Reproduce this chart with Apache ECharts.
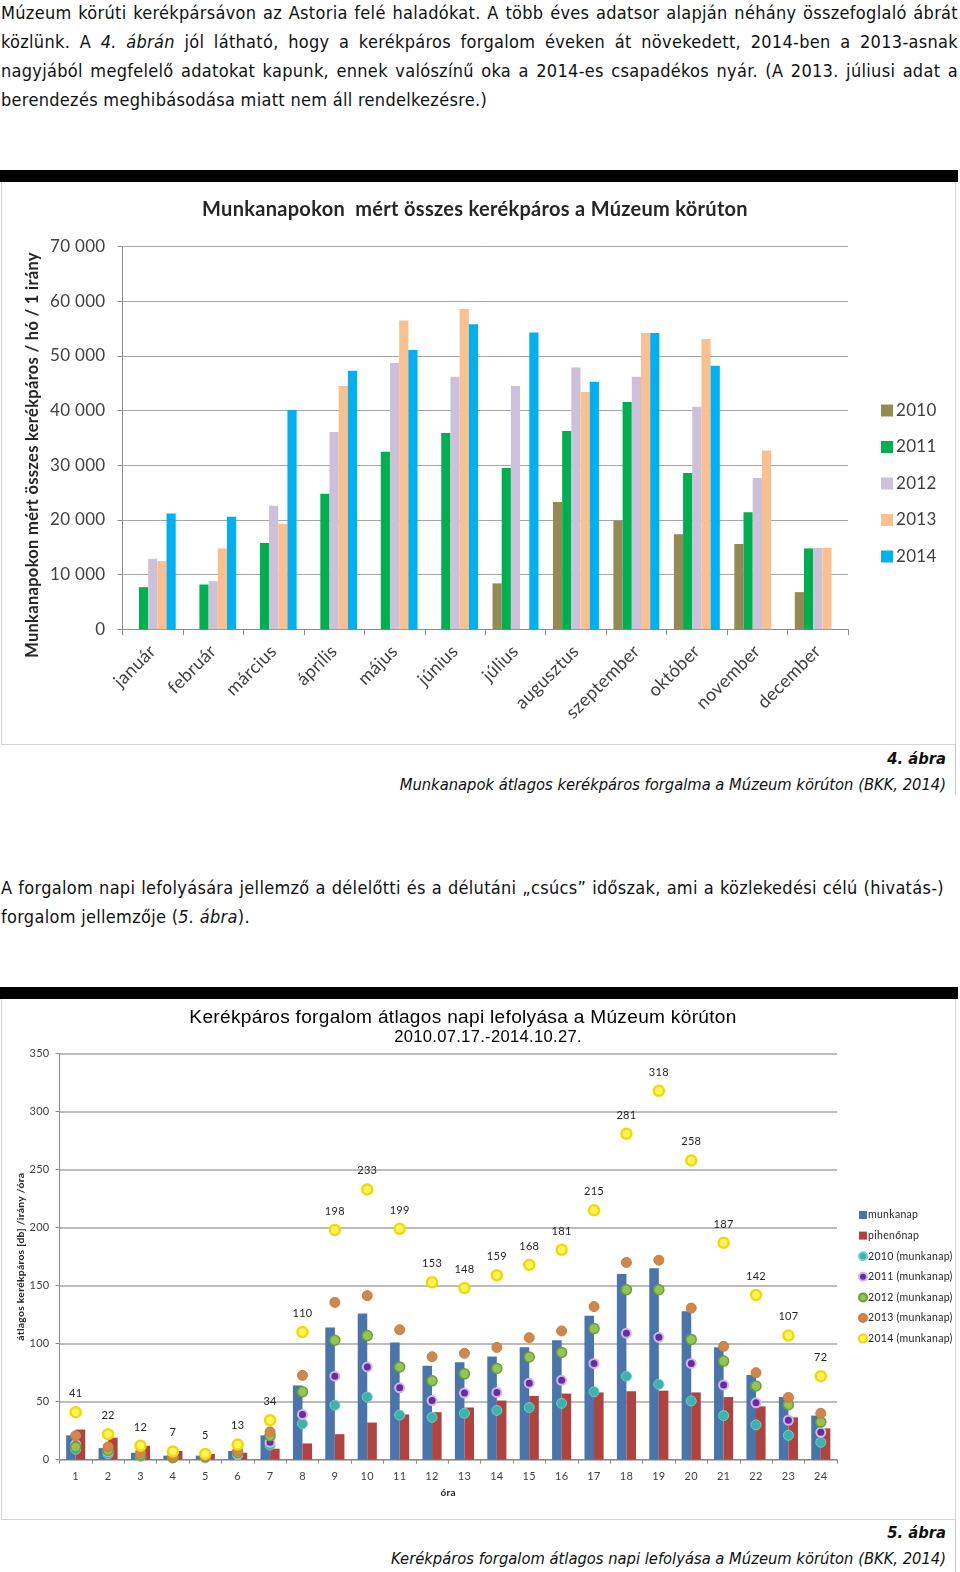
<!DOCTYPE html>
<html>
<head>
<meta charset="utf-8">
<script src="https://cdn.jsdelivr.net/npm/echarts@6/dist/echarts.min.js"></script>
<style>
  html, body { margin:0; padding:0; background:#fff; }
  body { width:960px; height:1572px; position:relative; overflow:hidden;
         font-family:'DejaVu Sans Condensed','DejaVu Sans',sans-serif; font-size:18px; letter-spacing:0.3px; color:#111; }
  .ln { position:absolute; left:1px; white-space:nowrap; line-height:29px; height:29px; }
  .j { text-align:justify; text-align-last:justify; white-space:normal; }
  .cap { position:absolute; right:14px; white-space:nowrap; font-style:italic; line-height:20px; text-align:right; font-size:16.4px; letter-spacing:0; }
  .bar { position:absolute; left:0; width:958px; height:12px; background:#000; }
  .frame { position:absolute; left:1px; width:955px; border:1px solid #d4d4d4; border-top:none; box-sizing:border-box; }
  .vl { position:absolute; left:955px; width:1px; background:#c8c8c8; }
</style>
</head>
<body>
<div class="ln j" style="top:-2px;width:957px;">Múzeum körúti kerékpársávon az Astoria felé haladókat. A több éves adatsor alapján néhány összefoglaló ábrát</div>
<div class="ln j" style="top:27px;width:957px;">közlünk. A <i>4. ábrán</i> jól látható, hogy a kerékpáros forgalom éveken át növekedett, 2014-ben a 2013-asnak</div>
<div class="ln j" style="top:56px;width:957px;">nagyjából megfelelő adatokat kapunk, ennek valószínű oka a 2014-es csapadékos nyár. (A 2013. júliusi adat a</div>
<div class="ln" style="top:85px;">berendezés meghibásodása miatt nem áll rendelkezésre.)</div>

<div class="bar" style="top:170px;"></div>
<div class="frame" style="top:182px;height:563px;"></div>
<div id="c1" style="position:absolute;left:0;top:182px;width:958px;height:562px;"></div>
<div class="vl" style="top:744px;height:51px;"></div>
<div class="cap" style="top:749px;font-weight:bold;">4. ábra</div>
<div class="cap" style="top:775px;">Munkanapok átlagos kerékpáros forgalma a Múzeum körúton (BKK, 2014)</div>

<div class="ln j" style="top:873px;width:943px;">A forgalom napi lefolyására jellemző a délelőtti és a délutáni „csúcs” időszak, ami a közlekedési célú (hivatás-)</div>
<div class="ln" style="top:902px;">forgalom jellemzője (<i>5. ábra</i>).</div>

<div class="bar" style="top:987px;"></div>
<div class="frame" style="top:999px;height:521px;"></div>
<div id="c2" style="position:absolute;left:0;top:999px;width:958px;height:520px;"></div>
<div class="vl" style="top:1519px;height:53px;"></div>
<div class="cap" style="top:1523px;font-weight:bold;">5. ábra</div>
<div class="cap" style="top:1549px;">Kerékpáros forgalom átlagos napi lefolyása a Múzeum körúton (BKK, 2014)</div>

<script>
// ---- Chart 1 data ----
const months = ['január','február','március','április','május','június','július','augusztus','szeptember','október','november','december'];
const years = ['2010','2011','2012','2013','2014'];
const y2010 = [null,null,null,null,null,null,8400,23300,19900,17400,15600,6800];
const y2011 = [7700,8200,15800,24800,32500,35900,29500,36300,41600,28600,21400,14800];
const y2012 = [12900,8800,22600,36100,48700,46200,44500,47900,46200,40700,27700,14900];
const y2013 = [12500,14800,19300,44500,56500,58600,null,43400,54200,53100,32700,14900];
const y2014 = [21200,20600,40100,47300,51100,55800,54300,45300,54200,48200,null,null];
const yTicks1 = [0,10000,20000,30000,40000,50000,60000,70000];

// ---- Chart 2 data ----
const hours = ['1','2','3','4','5','6','7','8','9','10','11','12','13','14','15','16','17','18','19','20','21','22','23','24'];
const munkanap = [21,10,6,3.5,3.5,7.5,21,64,114,126,101,81,84,89,97,103,124,160,165,128,97,73,54,38];
const pihenonap = [26,19,12,7.5,5,6,9.5,14,22,32,39,41,45,51,55,57,58,59,59.5,58,54,46,36.5,27];
const m2010 = [9,5,3,1.5,1.5,4,12.6,31,47,54,38.5,36.5,40,42.5,45,48.6,58.6,72,65,50.6,38,30,21,15];
const m2011 = [13,7,3.5,2,2,5,15,39,72,80,62,51,57.5,58,66,68.4,83,109,105.5,83,64.4,49,34,23.6];
const m2012 = [11,8,4,2,2.5,6,20.7,58.6,103,107,80,68,74,78.7,88.5,92.5,113,146.6,146.6,103.7,85,63.5,47.4,32.5];
const m2013 = [20.7,11,6,2.3,3,7.5,24,72.7,135.6,141.4,112,88.8,91.7,96.8,105.2,111,132,170,172,130.7,97.7,75,53.7,40];
const m2014 = [41,22,12,7,5,13,34,110,198,233,199,153,148,159,168,181,215,281,318,258,187,142,107,72];
const yTicks2 = [0,50,100,150,200,250,300,350];

const fmtThousands = v => String(v).replace(/\B(?=(\d{3})+(?!\d))/g, ' ');

// ---- Chart 1 ----
const c1 = echarts.init(document.getElementById('c1'), null, {renderer:'canvas'});
const colors1 = ['#948A54','#00B050','#CCC0DA','#FAC090','#00B0F0'];
const vals1 = [y2010,y2011,y2012,y2013,y2014];
c1.setOption({
  animation:false,
  textStyle:{fontFamily:'Lato'},
  title:{text:'Munkanapokon  mért összes kerékpáros a Múzeum körúton', left:470, textAlign:'center', top:13,
    textStyle:{fontFamily:'Lato', fontSize:20, fontWeight:'bold', color:'#262626'}},
  legend:{orient:'vertical', left:876, top:215, itemWidth:12, itemHeight:12, itemGap:19.5,
    icon:'rect', data:years, textStyle:{fontFamily:'Lato', fontSize:17, color:'#404040', lineHeight:17, padding:[0,0,0,-2]}},
  grid:{left:122.5, right:110, top:64.7, bottom:114.7, containLabel:false},
  graphic:[{type:'text', x:33, y:273, rotation:Math.PI/2,
    style:{text:'Munkanapokon mért összes kerékpáros / hó / 1 irány', fontFamily:'Lato', fontSize:16.5, fontWeight:'bold',
      fill:'#262626', textAlign:'center', textVerticalAlign:'middle'}}],
  xAxis:{type:'category', data:months,
    axisLine:{lineStyle:{color:'#8c8c8c', width:1}},
    axisTick:{show:true, length:6, lineStyle:{color:'#8c8c8c'}},
    axisLabel:{rotate:45, fontSize:18, color:'#404040', margin:19, fontFamily:'Lato', interval:0}},
  yAxis:{type:'value', min:yTicks1[0], max:yTicks1[yTicks1.length-1], interval:10000,
    axisLine:{show:true, lineStyle:{color:'#8c8c8c'}},
    axisTick:{show:true, length:5, lineStyle:{color:'#8c8c8c'}},
    splitLine:{lineStyle:{color:'#a6a6a6', width:1}},
    axisLabel:{fontSize:17, color:'#404040', margin:17, fontFamily:'Lato', formatter:fmtThousands}},
  series: years.map((y,i)=>({name:y, type:'bar', data:vals1[i], barGap:'0%', barCategoryGap:'24%',
    itemStyle:{color:colors1[i]}}))
});

// ---- Chart 2 ----
const c2 = echarts.init(document.getElementById('c2'), null, {renderer:'canvas'});
const dotStyles = [
  {name:'2010 (munkanap)', data:m2010, color:'#3DB3AA', border:'#6FCFC6', bw:1, size:10},
  {name:'2011 (munkanap)', data:m2011, color:'#6A2C9A', border:'#D3B5EC', bw:2, size:9},
  {name:'2012 (munkanap)', data:m2012, color:'#93C553', border:'#6E9E35', bw:1.5, size:10},
  {name:'2013 (munkanap)', data:m2013, color:'#D0874C', border:'#C87E42', bw:1, size:10},
  {name:'2014 (munkanap)', data:m2014, color:'#FFF45C', border:'#F2DA00', bw:2.5, size:10}
];
c2.setOption({
  animation:false,
  textStyle:{fontFamily:'Lato'},
  title:[
    {text:'Kerékpáros forgalom átlagos napi lefolyása a Múzeum körúton', left:458, textAlign:'center', top:4,
      textStyle:{fontFamily:'Liberation Sans', fontSize:19.1, fontWeight:'normal', color:'#000'}},
    {text:'2010.07.17.-2014.10.27.', left:483, textAlign:'center', top:25,
      textStyle:{fontFamily:'Liberation Sans', fontSize:16.6, fontWeight:'normal', color:'#000'}}
  ],
  legend:{orient:'vertical', left:853, top:205, itemWidth:8, itemHeight:8, itemGap:8.6,
    data:[{name:'munkanap', icon:'rect'},{name:'pihenőnap', icon:'rect'},
      ...dotStyles.map(d=>({name:d.name, icon:'circle'}))],
    textStyle:{fontFamily:'Lato', fontSize:10.5, color:'#262626', lineHeight:12, padding:[0,0,0,-4]}},
  grid:{left:59.5, right:121, top:54.7, bottom:59.3, containLabel:false},
  xAxis:{type:'category', data:hours, name:'óra', nameLocation:'middle', nameGap:28,
    nameTextStyle:{fontFamily:'Lato', fontSize:10, fontWeight:'bold', color:'#262626'},
    axisLine:{lineStyle:{color:'#8c8c8c'}},
    axisTick:{show:true, length:4, lineStyle:{color:'#8c8c8c'}},
    axisLabel:{fontSize:11, color:'#404040', margin:11, fontFamily:'Lato', interval:0}},
  yAxis:{type:'value', min:yTicks2[0], max:yTicks2[yTicks2.length-1], interval:50,
    name:'átlagos kerékpáros [db] /irány /óra', nameLocation:'middle', nameGap:34, nameRotate:90, nameMoveOverlap:false,
    nameTextStyle:{fontFamily:'Lato', fontSize:10.3, fontWeight:'bold', color:'#262626'},
    axisLine:{show:true, lineStyle:{color:'#8c8c8c'}},
    axisTick:{show:true, length:4, lineStyle:{color:'#8c8c8c'}},
    splitLine:{lineStyle:{color:'#a6a6a6', width:1.5}},
    axisLabel:{fontSize:11, color:'#404040', margin:10, fontFamily:'Lato'}},
  series:[
    {name:'munkanap', type:'bar', data:munkanap, barGap:'0%', barCategoryGap:'41%', itemStyle:{color:'#4A74AC'}},
    {name:'pihenőnap', type:'bar', data:pihenonap, itemStyle:{color:'#B1433F'}},
    ...dotStyles.map((d,i)=>({name:d.name, type:'scatter', data:d.data, symbolSize:d.size, z:3+i,
      itemStyle:{color:d.color, borderColor:d.border, borderWidth:d.bw, opacity:1},
      label: i===4 ? {show:true, position:'top', distance:7, formatter:'{c}', fontSize:11, color:'#262626', fontFamily:'Lato'} : {show:false}
    }))
  ]
});
</script>
</body>
</html>
